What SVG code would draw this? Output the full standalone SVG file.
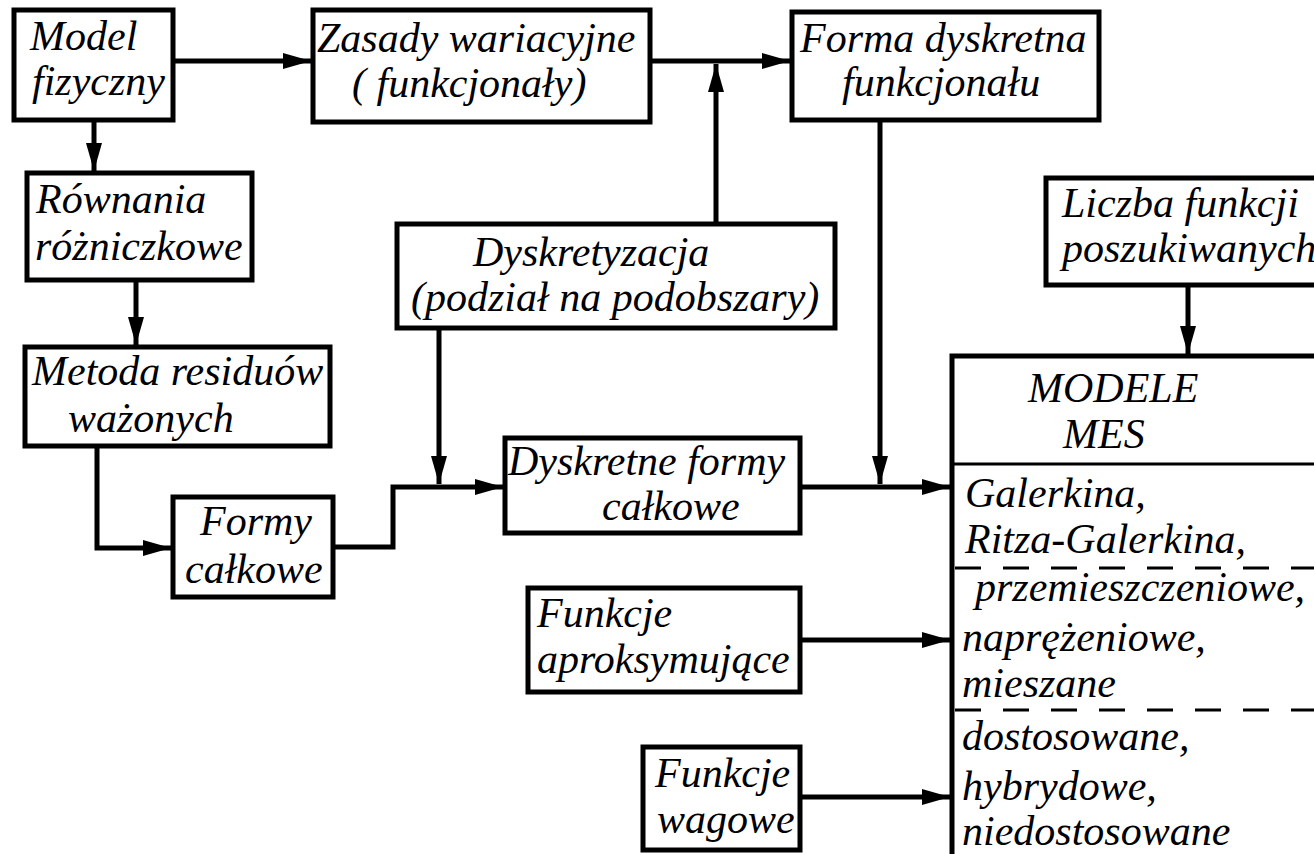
<svg xmlns="http://www.w3.org/2000/svg" width="1314" height="854" viewBox="0 0 1314 854">
<style>
.box{fill:#fff;stroke:#000;stroke-width:5}
.t{font-family:"Liberation Serif","Times New Roman",serif;font-style:italic;font-size:42px;fill:#000}
.c{fill:none;stroke:#000;stroke-width:5}
.div{stroke:#000;stroke-width:3;fill:none}
.dash{stroke:#000;stroke-width:3;stroke-dasharray:26 22;fill:none}
</style>
<defs>
<marker id="ah" markerUnits="userSpaceOnUse" markerWidth="28" markerHeight="16" refX="28" refY="8" orient="auto">
<path d="M0,0 L28,8 L0,16 z" fill="#000"/>
</marker>
</defs>
<rect width="1314" height="854" fill="#fff"/>
<g id="connectors">
<path class="c" d="M173,61 H311" marker-end="url(#ah)"/>
<path class="c" d="M650,61 H790" marker-end="url(#ah)"/>
<path class="c" d="M716,224 V64" marker-end="url(#ah)"/>
<path class="c" d="M94,120 V171" marker-end="url(#ah)"/>
<path class="c" d="M136,280 V345" marker-end="url(#ah)"/>
<path class="c" d="M97,446 V548 H171" marker-end="url(#ah)"/>
<path class="c" d="M333,547 H393 V487 H503" marker-end="url(#ah)"/>
<path class="c" d="M439,328 V484" marker-end="url(#ah)"/>
<path class="c" d="M880,120 V484" marker-end="url(#ah)"/>
<path class="c" d="M800,487 H950" marker-end="url(#ah)"/>
<path class="c" d="M1188,285 V354" marker-end="url(#ah)"/>
<path class="c" d="M800,640 H950" marker-end="url(#ah)"/>
<path class="c" d="M800,797 H950" marker-end="url(#ah)"/>
</g>
<g id="model-fizyczny">
<rect class="box" x="14" y="10" width="159" height="110"/>
<text class="t" x="30" y="50">Model</text>
<text class="t" x="32" y="95">fizyczny</text>
</g>
<g id="zasady">
<rect class="box" x="313" y="10" width="337" height="112"/>
<text class="t" x="317" y="52">Zasady wariacyjne</text>
<text class="t" x="352" y="97">( funkcjonały)</text>
</g>
<g id="forma">
<rect class="box" x="792" y="12" width="307" height="108"/>
<text class="t" x="800" y="52">Forma dyskretna</text>
<text class="t" x="842" y="96">funkcjonału</text>
</g>
<g id="rownania">
<rect class="box" x="27" y="173" width="225" height="107"/>
<text class="t" x="36" y="213">Równania</text>
<text class="t" x="35" y="260">różniczkowe</text>
</g>
<g id="dyskretyzacja">
<rect class="box" x="397" y="224" width="438" height="104"/>
<text class="t" x="473" y="266">Dyskretyzacja</text>
<text class="t" x="411" y="311">(podział na podobszary)</text>
</g>
<g id="metoda">
<rect class="box" x="25" y="347" width="305" height="99"/>
<text class="t" x="32" y="385">Metoda residuów</text>
<text class="t" x="68" y="432">ważonych</text>
</g>
<g id="formy">
<rect class="box" x="173" y="497" width="160" height="100"/>
<text class="t" x="200" y="535">Formy</text>
<text class="t" x="185" y="583">całkowe</text>
</g>
<g id="dyskretne">
<rect class="box" x="505" y="438" width="295" height="95"/>
<text class="t" x="508" y="475">Dyskretne formy</text>
<text class="t" x="602" y="520">całkowe</text>
</g>
<g id="liczba">
<rect class="box" x="1046" y="178" width="280" height="107"/>
<text class="t" x="1062" y="217">Liczba funkcji</text>
<text class="t" x="1062" y="262">poszukiwanych</text>
</g>
<g id="modele">
<rect class="box" x="952" y="356" width="380" height="510"/>
<text class="t" x="1028" y="402">MODELE</text>
<text class="t" x="1063" y="448">MES</text>
<line class="div" x1="952" y1="464" x2="1320" y2="464"/>
<text class="t" x="965" y="507">Galerkina,</text>
<text class="t" x="965" y="553">Ritza-Galerkina,</text>
<line class="dash" x1="955" y1="568" x2="1320" y2="568"/>
<text class="t" x="975" y="601">przemieszczeniowe,</text>
<text class="t" x="962" y="651">naprężeniowe,</text>
<text class="t" x="962" y="697">mieszane</text>
<line class="dash" x1="955" y1="710" x2="1320" y2="710"/>
<text class="t" x="962" y="750">dostosowane,</text>
<text class="t" x="962" y="800">hybrydowe,</text>
<text class="t" x="962" y="845">niedostosowane</text>
</g>
<g id="funkcje-aproksymujace">
<rect class="box" x="528" y="588" width="272" height="104"/>
<text class="t" x="537" y="627">Funkcje</text>
<text class="t" x="537" y="673">aproksymujące</text>
</g>
<g id="funkcje-wagowe">
<rect class="box" x="643" y="747" width="157" height="103"/>
<text class="t" x="655" y="787">Funkcje</text>
<text class="t" x="657" y="833">wagowe</text>
</g>
</svg>
